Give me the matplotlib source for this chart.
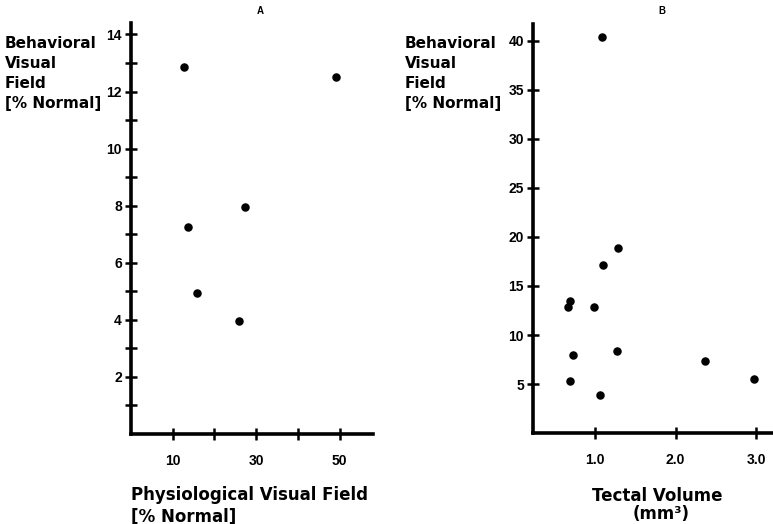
import matplotlib
matplotlib.use("Agg")
import matplotlib.pyplot as plt
from matplotlib.ticker import FixedLocator

plt.rcParams['font.family'] = ['Liberation Sans', 'DejaVu Sans']

# Panel A data
physio_field = [12.7, 49.2, 27.3, 13.7, 15.8, 25.9]
behav_field_a = [12.85, 12.5, 7.95, 7.25, 4.95, 3.95]
a_xticks = [10, 20, 30, 40, 50]
a_xticklabels = ['10', '', '30', '', '50']
a_yticks = [2, 4, 6, 8, 10, 12, 14]
a_yminor = [1, 3, 5, 7, 9, 11, 13]

# Panel B data
tectal_volume = [1.09, 1.29, 1.10, 0.67, 0.69, 0.99, 0.73, 1.28, 2.36, 0.69, 1.07, 2.97]
behav_field_b = [40.4, 18.9, 17.1, 12.9, 13.5, 12.9, 8.0, 8.4, 7.3, 5.3, 3.9, 5.5]
b_xticks = [1.0, 2.0, 3.0]
b_xticklabels = ['1.0', '2.0', '3.0']
b_yticks = [5, 10, 15, 20, 25, 30, 35, 40]

LABEL_FONT = ['DejaVu Sans']

fig = plt.figure(figsize=(7.73, 5.24), dpi=100)

def style(ax):
    for s in ['top', 'right']:
        ax.spines[s].set_visible(False)
    for s in ['left', 'bottom']:
        ax.spines[s].set_linewidth(2.6)
    ax.tick_params(which='both', direction='inout', length=9, width=1.8, pad=2,
                   labelsize=10)
    ax.tick_params(axis='x', pad=10)
    for lab in ax.get_xticklabels() + ax.get_yticklabels():
        lab.set_fontweight('bold')

axA = fig.add_axes([0.1695, 0.172, 0.313, 0.784])
axA.scatter(physio_field, behav_field_a, s=26, color='black', zorder=3)
axA.set_xlim(0, 58)
axA.set_ylim(0, 14.4)
axA.set_xticks(a_xticks)
axA.set_xticklabels(a_xticklabels)
axA.set_yticks(a_yticks)
axA.yaxis.set_minor_locator(FixedLocator(a_yminor))
style(axA)

axB = fig.add_axes([0.6895, 0.1735, 0.31, 0.7805])
axB.scatter(tectal_volume, behav_field_b, s=26, color='black', zorder=3)
axB.set_xlim(0.235, 3.2)
axB.set_ylim(0, 41.7)
axB.set_xticks(b_xticks)
axB.set_xticklabels(b_xticklabels)
axB.set_yticks(b_yticks)
style(axB)

ylab = "Behavioral\nVisual\nField\n[% Normal]"
for x0 in (5, 405):
    fig.text(x0/773, 1 - 36/524, ylab, ha='left', va='top', fontsize=11,
             fontweight='bold', linespacing=1.42, family=LABEL_FONT)

fig.text(131/773, 1 - 486/524, "Physiological Visual Field\n[% Normal]",
         ha='left', va='top', fontsize=12, fontweight='bold', linespacing=1.25,
         family=LABEL_FONT)
fig.text(657/773, 1 - 496/524, "Tectal Volume",
         ha='center', va='center', fontsize=12, fontweight='bold', family=LABEL_FONT)
fig.text(661/773, 1 - 514/524, "(mm³)",
         ha='center', va='center', fontsize=12, fontweight='bold', family=LABEL_FONT)

fig.text(260/773, 1 - 11/524, "A", ha='center', va='center', fontsize=7, fontweight='bold')
fig.text(662/773, 1 - 11/524, "B", ha='center', va='center', fontsize=7, fontweight='bold')

fig.savefig("out.png", dpi=100)
